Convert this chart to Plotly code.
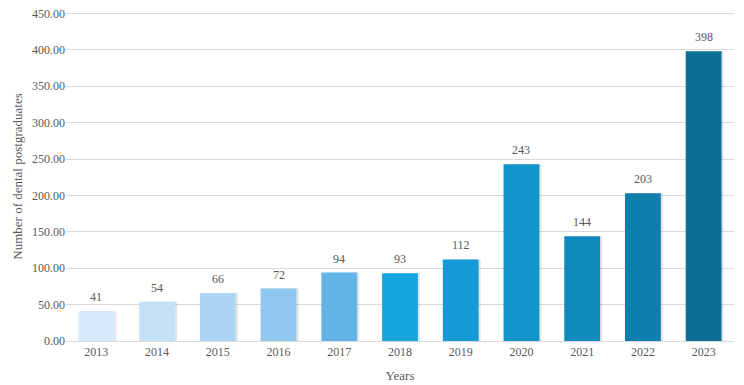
import plotly.graph_objects as go

years = ["2013", "2014", "2015", "2016", "2017", "2018", "2019", "2020", "2021", "2022", "2023"]
postgraduates = [41, 54, 66, 72, 94, 93, 112, 243, 144, 203, 398]
bar_colors = ["#d5eafc", "#c4e0f7", "#acd5f3", "#90c7ee", "#63b4e6", "#14a5df",
              "#149ad5", "#1293c9", "#1089bc", "#0e7ead", "#0c6f95"]

font_family = "Liberation Serif, DejaVu Serif, serif"
grey = "#595959"
bar_width = 0.59

fig = go.Figure()
# subtle drop shadow behind each bar
fig.add_trace(go.Bar(
    x=years, y=postgraduates,
    width=bar_width, offset=-bar_width / 2 + 0.035,
    marker=dict(color="rgba(0,0,0,0.10)", line=dict(width=0)),
    hoverinfo="skip",
))
fig.add_trace(go.Bar(
    x=years, y=postgraduates,
    width=bar_width, offset=-bar_width / 2,
    marker=dict(color=bar_colors, line=dict(width=0)),
    hoverinfo="x+y",
))

for i, v in enumerate(postgraduates):
    fig.add_annotation(x=i, y=v, xref="x", yref="y", text=str(v), showarrow=False,
                       yanchor="bottom", yshift=5,
                       font=dict(family=font_family, size=12, color=grey))

# page body has an 8px margin; size the figure so the plot lands where the reference has it
fig.update_layout(
    width=736, height=377,
    margin=dict(l=58, r=10, t=4, b=44, autoexpand=False),
    paper_bgcolor="white", plot_bgcolor="white",
    barmode="overlay",
    showlegend=False,
    font=dict(family=font_family, size=12, color=grey),
    xaxis=dict(
        type="category", range=[-0.5, 10.5], automargin=False,
        showgrid=False,
        showline=True, linecolor="#d9d9d9", linewidth=1,
        ticks="", tickfont=dict(family=font_family, size=12, color=grey),
        title=dict(text="Years", font=dict(family=font_family, size=13, color=grey), standoff=12),
    ),
    yaxis=dict(
        range=[0, 452], tickvals=[0, 50, 100, 150, 200, 250, 300, 350, 400, 450],
        tickformat=".2f", automargin=False, ticklabeloverflow="allow",
        showgrid=True, gridcolor="#d9d9d9", gridwidth=1,
        zeroline=False, showline=False, ticks="",
        tickfont=dict(family=font_family, size=12, color=grey),
        title=dict(text="Number of dental postgraduates", font=dict(family=font_family, size=13, color=grey), standoff=6),
    ),
)

fig.write_html("out.html")
